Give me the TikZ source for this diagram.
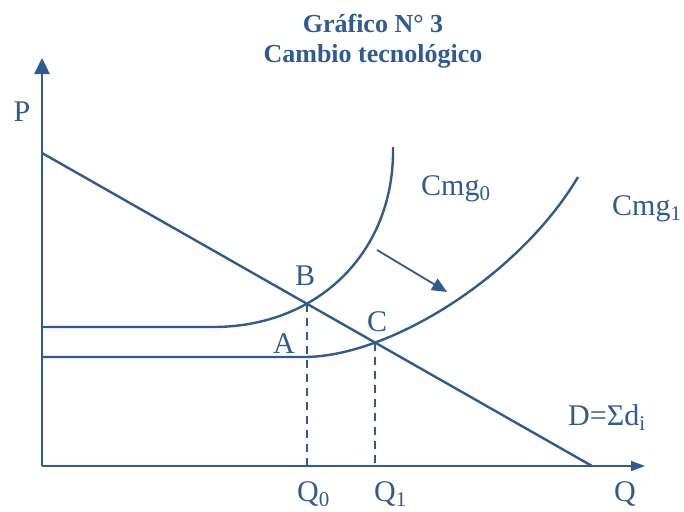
\documentclass[tikz,border=0pt]{standalone}
\usepackage{fontspec}
\setmainfont{Liberation Serif}
\usetikzlibrary{arrows.meta,intersections}
\definecolor{graphblue}{RGB}{47,91,145}
\begin{document}
\begin{tikzpicture}[x=1pt, y=-1pt,
    axis/.style={graphblue, line width=2.5pt},
    curve/.style={graphblue, line width=2.4pt},
    guide/.style={graphblue, line width=1.8pt, dash pattern=on 8pt off 6pt},
    lbl/.style={text=graphblue, font=\fontsize{30}{30}\selectfont, inner sep=0pt},
    heading/.style={text=graphblue, font=\bfseries\fontsize{26}{30}\selectfont, inner sep=0pt, anchor=base}
]
\useasboundingbox (0,0) rectangle (684,511);

% Title
\node[heading] (title1) at (373,33) {Gráfico N° 3};
\node[heading] (title2) at (373,63) {Cambio tecnológico};

% Axes
\coordinate (O) at (42,466);
\coordinate (ytop) at (42,58);
\coordinate (xend) at (645,466);
\draw[axis, -{Triangle[length=16pt, width=15pt]}] (O) -- (ytop);
\draw[graphblue, line width=1.2pt, -{Triangle[length=14pt, width=10pt]}] (O) -- (xend);

% Demand
\coordinate (D0) at (42,153);
\coordinate (D1) at (592,466);
\draw[curve, name path=demand] (D0) -- (D1);
\draw[curve] (O) -- (D1);

% Marginal cost, before
\coordinate (c0start) at (42,327);
\coordinate (c0bend) at (213,327);
\coordinate (c0top) at (393,147);
\draw[curve, name path=cmgzero] (c0start) -- (c0bend) .. controls (320,327) and (395,250) .. (c0top);

% Marginal cost, after
\coordinate (c1start) at (42,357);
\coordinate (A) at (304,357);
\coordinate (c1top) at (578,177);
\draw[curve, name path=cmgone] (c1start) -- (A) .. controls (390,357) and (520,275) .. (c1top);

% Equilibria
\path[name intersections={of=demand and cmgzero, by=B}];
\path[name intersections={of=demand and cmgone, by=C}];
\draw[guide] (B) -- (B |- O);
\draw[guide] (C) -- (C |- O);

% Shift
\coordinate (s0) at (377,250);
\coordinate (s1) at (447,292);
\draw[graphblue, line width=1.8pt, -{Triangle[length=15pt, width=13pt]}] (s0) -- (s1);

% Labels
\node[lbl, anchor=base] (plabel) at (22,121) {P};
\node[lbl, anchor=base] (qlabel) at (625,501) {Q};
\node[lbl, anchor=base west] (q0label) at (297,501) {Q\textsubscript{0}};
\node[lbl, anchor=base west] (q1label) at (374,501) {Q\textsubscript{1}};
\node[lbl, anchor=base] (alabel) at (284,353) {A};
\node[lbl, anchor=base] (blabel) at (305,285) {B};
\node[lbl, anchor=base] (clabel) at (377,331) {C};
\node[lbl, anchor=base west] (cmg0label) at (421,195) {Cmg\textsubscript{0}};
\node[lbl, anchor=base west] (cmg1label) at (612,215) {Cmg\textsubscript{1}};
\node[lbl, anchor=base west] (dlabel) at (568,425) {D=Σd\textsubscript{i}};
\end{tikzpicture}
\end{document}
